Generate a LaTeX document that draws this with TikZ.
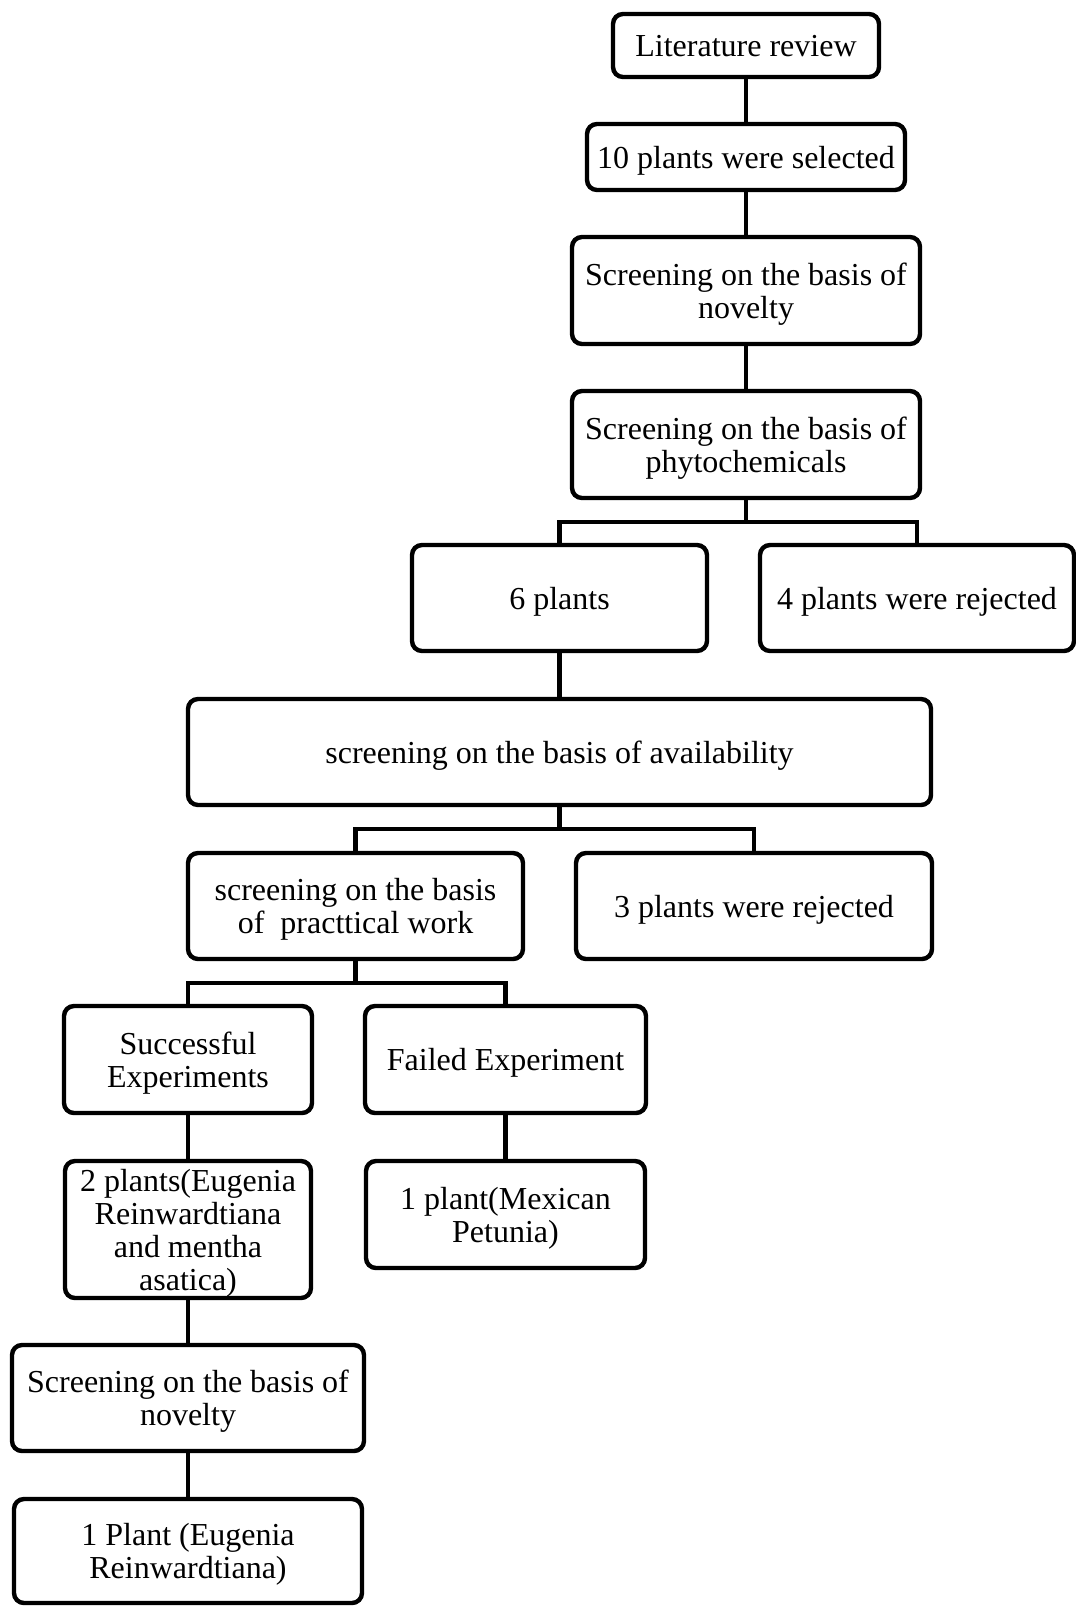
\documentclass[tikz,border=0pt]{standalone}
\usepackage{fontspec}
\setmainfont{Liberation Serif}
\usetikzlibrary{positioning}

\begin{document}
\begin{tikzpicture}[
	x=0.5pt,
	y=-0.5pt,
	every stage/.style={draw, rounded corners=5pt, line width=2.2pt, align=center, inner sep=2pt, text depth=0pt, font=\fontsize{16}{16.5}\selectfont},
	link/.style={line width=2.2pt}
]

\useasboundingbox (0,0) rectangle (1076,1606);

% main column
\node [every stage/.try, minimum width=133pt, minimum height=31.5pt] (lit) at (746,45.5) {Literature review};
\node [every stage/.try, minimum width=159pt, minimum height=33pt] (sel) at (746,157) {10 plants were selected};
\node [every stage/.try, minimum width=174pt, minimum height=53.5pt] (nov) at (746,290.5) {Screening on the basis of\\novelty};
\node [every stage/.try, minimum width=174pt, minimum height=53.5pt] (phy) at (746,444.5) {Screening on the basis of\\phytochemicals};

\node [every stage/.try, minimum width=147.5pt, minimum height=53pt] (six) at (559.5,598) {6 plants};
\node [every stage/.try, minimum width=157pt, minimum height=53pt] (rej4) at (917,598) {4 plants were rejected};

\node [every stage/.try, minimum width=371.5pt, minimum height=53pt] (avail) at (559.5,752) {screening on the basis of availability};

\node [every stage/.try, minimum width=167.5pt, minimum height=53pt] (prac) at (355.5,906) {screening on the basis\\of~ practtical work};
\node [every stage/.try, minimum width=178pt, minimum height=53pt] (rej3) at (754,906) {3 plants were rejected};

\node [every stage/.try, minimum width=124pt, minimum height=53.5pt] (succ) at (188,1059.5) {Successful\\Experiments};
\node [every stage/.try, minimum width=140.5pt, minimum height=53.5pt] (fail) at (505.5,1059.5) {Failed Experiment};

\node [every stage/.try, minimum width=123pt, minimum height=68.5pt] (two) at (188,1229.5) {2 plants(Eugenia\\Reinwardtiana\\and mentha\\asatica)};
\node [every stage/.try, minimum width=139.5pt, minimum height=53.5pt] (mex) at (505.5,1214.5) {1 plant(Mexican\\Petunia)};

\node [every stage/.try, minimum width=176pt, minimum height=53pt] (nov2) at (188,1398) {Screening on the basis of\\novelty};
\node [every stage/.try, minimum width=174pt, minimum height=52pt] (one) at (188,1551) {1 Plant (Eugenia\\Reinwardtiana)};

% split points
\coordinate (split1) at (746,522);
\coordinate (split2) at (559.5,829);
\coordinate (split3) at (355.5,983);

\foreach \a/\b in {lit/sel, sel/nov, nov/phy, six/avail, succ/two, two/nov2, nov2/one, fail/mex}
	\draw [link] (\a) -- (\b);

\draw [link] (phy) -- (split1);
\draw [link] (six.north) |- (split1) -| (rej4.north);

\draw [link] (avail) -- (split2);
\draw [link] (prac.north) |- (split2) -| (rej3.north);

\draw [link] (prac) -- (split3);
\draw [link] (succ.north) |- (split3) -| (fail.north);

\end{tikzpicture}
\end{document}
